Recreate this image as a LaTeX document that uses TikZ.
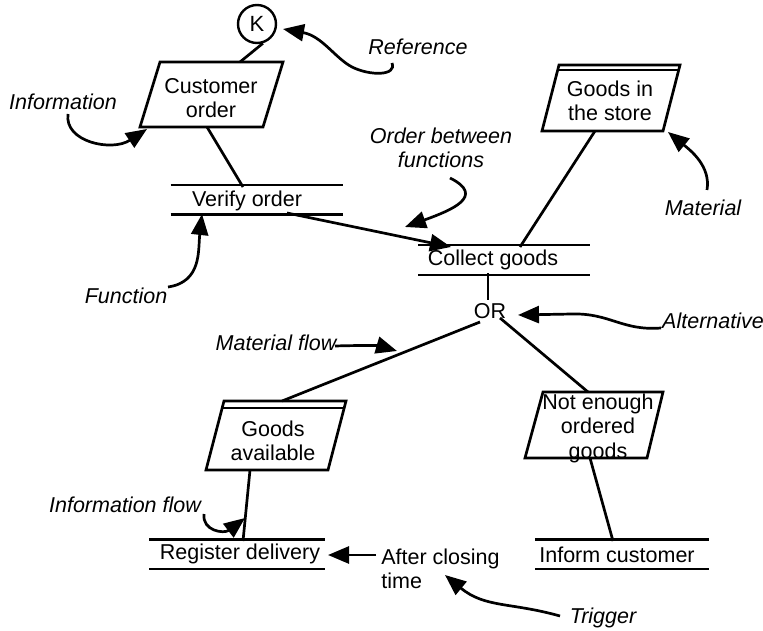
\documentclass[tikz,border=0pt]{standalone}
\usepackage{fontspec}
\setmainfont{Liberation Sans}
\usetikzlibrary{arrows.meta}
\begin{document}
\begin{tikzpicture}[x=1pt,y=-1pt,
  line width=2.7pt, line join=miter,
  txt/.style={font=\fontsize{21.5}{24.5}\selectfont, inner sep=0pt, align=center},
  note/.style={txt, font=\fontsize{21.5}{24.5}\selectfont\itshape},
  func/.style={minimum height=27pt, inner sep=0pt},
  tip/.style={-{Triangle[length=21pt,width=17pt]}},
]
\useasboundingbox (0,0) rectangle (763,631);
\fill[white] (0,0) rectangle (763,631);

% ---------- event / information objects ----------
\node[circle, draw, minimum size=38pt, inner sep=0pt, line width=2.4pt,
      font=\fontsize{22}{24}\selectfont] (K) at (257,24) {K};

\draw (160,62) -- (283,62) -- (263,127) -- (140,127) -- cycle;
\node[txt] (co) at (211,98) {Customer\\order};
\coordinate (co-top) at (240,62);
\coordinate (co-bot) at (207,127);

\draw (559,65) -- (680,65) -- (663,131) -- (542,131) -- cycle;
\draw (558,70) -- (679,70);
\node[txt] (store) at (610,101) {Goods in\\the store};
\coordinate (store-bot) at (595,131);

\draw (224,401) -- (346,401) -- (328,470) -- (206,470) -- cycle;
\draw (222,408) -- (344,408);
\node[txt] (ga) at (273,441) {Goods\\available};
\coordinate (ga-top) at (282,401);
\coordinate (ga-bot) at (250,470);

\draw (543,392) -- (663,392) -- (647,458) -- (525,458) -- cycle;
\node[txt] (ne) at (598,428) {Not enough\\ordered\\goods};
\coordinate (ne-top) at (588,392);
\coordinate (ne-bot) at (590,458);

% ---------- functions ----------
\node[func, minimum width=170pt] (vo) at (257,200) {};
\draw (vo.north west) -- (vo.north east) (vo.south west) -- (vo.south east);
\node[txt] (vo-t) at (247,201) {Verify order};
\coordinate (vo-top) at (243,187);
\coordinate (vo-bot) at (287,213);

\node[func, minimum width=169pt] (cg) at (504,260) {};
\draw (cg.north west) -- (cg.north east) (cg.south west) -- (cg.south east);
\node[txt] (cg-t) at (493,260) {Collect goods};
\coordinate (cg-in) at (451,247);
\coordinate (cg-top) at (520,247);
\coordinate (cg-bot) at (488,273);

\node[func, minimum width=173pt] (rd) at (237,554) {};
\draw (rd.north west) -- (rd.north east) (rd.south west) -- (rd.south east);
\node[txt] (rd-t) at (240,554) {Register delivery};
\coordinate (rd-top) at (243,541);
\coordinate (rd-east) at (328,555);

\node[func, minimum width=171pt] (ic) at (622,554) {};
\draw (ic.north west) -- (ic.north east) (ic.south west) -- (ic.south east);
\node[txt] (ic-t) at (617,555) {Inform customer};
\coordinate (ic-top) at (613,541);

% ---------- connector ----------
\node[txt] (or) at (490,311) {OR};
\coordinate (or-top) at (488,300);
\coordinate (or-l) at (480,322);
\coordinate (or-r) at (500,318);

% ---------- trigger ----------
\node[txt, align=left, anchor=west] (act) at (380,569) {After closing\\time};

% ---------- flows ----------
\draw (K.-73) -- (co-top);
\draw (co-bot) -- (vo-top);
\draw[tip] (vo-bot) -- (cg-in);
\draw (store-bot) -- (cg-top);
\draw (cg-bot) -- (or-top);
\draw (or-l) -- (ga-top);
\draw (or-r) -- (ne-top);
\draw (ga-bot) -- (rd-top);
\draw (ne-bot) -- (ic-top);
\draw[tip] (act.west |- rd-east) ++(-4,0) coordinate (act-w) -- (rd-east);

% ---------- annotations ----------
\node[note] (n-ref) at (418,47) {Reference};
\node[note] (n-info) at (63,102) {Information};
\node[note] (n-func) at (126,296) {Function};
\node[note] (n-order) at (441,148) {Order between\\functions};
\node[note] (n-mat) at (703,208) {Material};
\node[note] (n-alt) at (713,321) {Alternative};
\node[note] (n-mflow) at (276,343) {Material flow};
\node[note] (n-iflow) at (125,505) {Information flow};
\node[note] (n-trig) at (603,618) {Trigger};

\coordinate (a-ref) at (392,63);
\coordinate (a-info) at (68,114);
\coordinate (a-func) at (168,287);
\coordinate (a-order) at (450,178);
\coordinate (a-mat) at (707,190);
\coordinate (a-alt) at (661,328);
\coordinate (a-mflow) at (335,346);
\coordinate (a-iflow) at (204,514);
\coordinate (a-trig) at (560,616);

\draw[tip] (a-ref) .. controls (397,76) and (370,76) .. (352,67)
           .. controls (335,58) and (322,36) .. (283,29);
\draw[tip] (a-info) .. controls (64,142) and (112,152) .. (147,129);
\draw[tip] (a-func) .. controls (202,282) and (198,250) .. (202,214);
\draw[tip] (a-order) .. controls (486,196) and (452,210) .. (405,227);
\draw[tip] (a-mat) .. controls (711,166) and (690,150) .. (668,132);
\draw[tip] (a-alt) .. controls (622,331) and (610,313) .. (572,314) -- (518,315);
\draw[tip] (a-mflow) .. controls (368,345) and (380,346) .. (397,351);
\draw[tip] (a-iflow) .. controls (202,531) and (224,534) .. (245,518);
\draw[tip] (a-trig) .. controls (510,602) and (485,608) .. (445,575);
\end{tikzpicture}
\end{document}
